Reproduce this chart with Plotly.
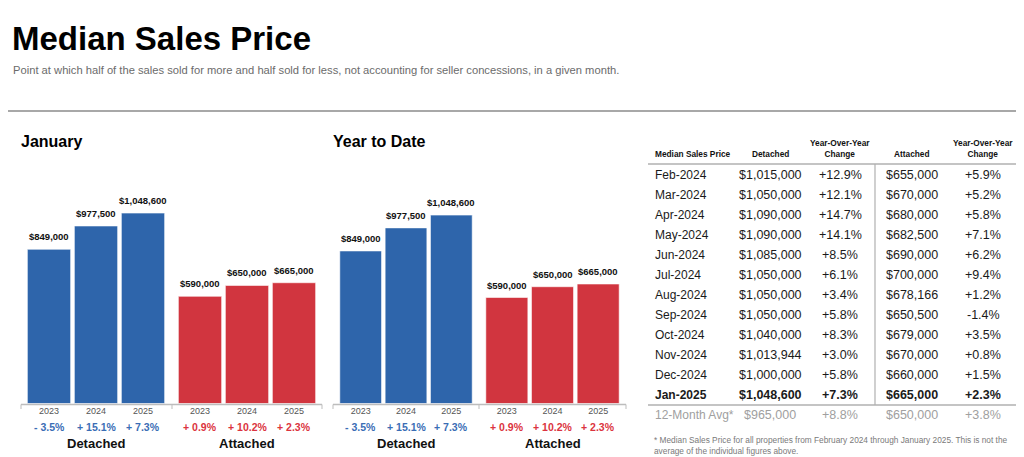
import plotly.graph_objects as go

# ---------------- data ----------------
years = ["2023", "2024", "2025"]
jan_detached = [849000, 977500, 1048600]
jan_attached = [590000, 650000, 665000]
jan_detached_pct = ["- 3.5%", "+ 15.1%", "+ 7.3%"]
jan_attached_pct = ["+ 0.9%", "+ 10.2%", "+ 2.3%"]
ytd_detached = [849000, 977500, 1048600]
ytd_attached = [590000, 650000, 665000]
ytd_detached_pct = ["- 3.5%", "+ 15.1%", "+ 7.3%"]
ytd_attached_pct = ["+ 0.9%", "+ 10.2%", "+ 2.3%"]

months = ["Feb-2024", "Mar-2024", "Apr-2024", "May-2024", "Jun-2024", "Jul-2024",
          "Aug-2024", "Sep-2024", "Oct-2024", "Nov-2024", "Dec-2024", "Jan-2025"]
tbl_detached = ["$1,015,000", "$1,050,000", "$1,090,000", "$1,090,000", "$1,085,000", "$1,050,000",
                "$1,050,000", "$1,050,000", "$1,040,000", "$1,013,944", "$1,000,000", "$1,048,600"]
tbl_detached_yoy = ["+12.9%", "+12.1%", "+14.7%", "+14.1%", "+8.5%", "+6.1%",
                    "+3.4%", "+5.8%", "+8.3%", "+3.0%", "+5.8%", "+7.3%"]
tbl_attached = ["$655,000", "$670,000", "$680,000", "$682,500", "$690,000", "$700,000",
                "$678,166", "$650,500", "$679,000", "$670,000", "$660,000", "$665,000"]
tbl_attached_yoy = ["+5.9%", "+5.2%", "+5.8%", "+7.1%", "+6.2%", "+9.4%",
                    "+1.2%", "-1.4%", "+3.5%", "+0.8%", "+1.5%", "+2.3%"]
avg_row = ["12-Month Avg*", "$965,000", "+8.8%", "$650,000", "+3.8%"]
table_header = ["Median Sales Price", "Detached", "Year-Over-Year<br>Change", "Attached", "Year-Over-Year<br>Change"]

# ---------------- style ----------------
PAGE_W, PAGE_H = 1024, 457
OX, OY = 8, 8                      # default page body margin
FW, FH = PAGE_W - OX, PAGE_H - OY  # figure size so it fits the window
BLUE = "#2e65ab"
RED = "#d1353f"
PCT_BLUE = "#3a6db5"
PCT_RED = "#db3340"
SANS = "Liberation Sans, Arial, Helvetica, sans-serif"


def px(x):
    return (x - OX) / FW


def py(y):
    return 1 - (y - OY) / FH


fig = go.Figure()

panels = [
    # (xaxis, yaxis, values, pct, color, pctcolor, domain px, group label)
    ("x", "y", jan_detached, jan_detached_pct, BLUE, PCT_BLUE, (25.5, 166.5), "Detached"),
    ("x2", "y", jan_attached, jan_attached_pct, RED, PCT_RED, (176.5, 317.5), "Attached"),
    ("x3", "y2", ytd_detached, ytd_detached_pct, BLUE, PCT_BLUE, (338, 474), "Detached"),
    ("x4", "y2", ytd_attached, ytd_attached_pct, RED, PCT_RED, (484, 621), "Attached"),
]

annotations = []
shapes = []
axes = {}

for i, (xa, ya, vals, pcts, col, pcol, dom, glabel) in enumerate(panels):
    fig.add_trace(go.Bar(
        x=years, y=vals, xaxis=xa, yaxis=ya,
        marker=dict(color=col, line=dict(color="rgba(255,255,255,0.55)", width=1)),
        showlegend=False, hoverinfo="skip",
    ))
    key = "xaxis" if xa == "x" else "xaxis" + xa[1:]
    axes[key] = dict(
        domain=[px(dom[0]), px(dom[1])], anchor=ya, type="category",
        categoryorder="array", categoryarray=years, range=[-0.5, len(years) - 0.5],
        showgrid=False, zeroline=False, showline=False, ticks="",
        tickfont=dict(family=SANS, size=9, color="#555"),
    )
    for k, (v, p) in enumerate(zip(vals, pcts)):
        # value label above bar
        annotations.append(dict(x=k, xref=xa, y=v, yref=ya, yanchor="bottom", yshift=5,
                                text="${:,.0f}".format(v), showarrow=False,
                                font=dict(family=SANS, size=9.5, color="#111", weight="bold")))
        annotations.append(dict(x=k, xref=xa, y=py(427), yref="paper", yanchor="middle", text=p,
                                showarrow=False,
                                font=dict(family=SANS, size=10.5, color=pcol, weight="bold")))
    annotations.append(dict(x=0.5, xref=xa + " domain", y=py(443), yref="paper", yanchor="middle",
                            text=glabel, showarrow=False,
                            font=dict(family=SANS, size=13, color="#111", weight="bold")))

fig.update_layout(**axes)
fig.update_layout(
    yaxis=dict(domain=[py(403.5), py(150)], range=[0, 1396000], visible=False, anchor="x"),
    yaxis2=dict(domain=[py(403.5), py(150)], range=[0, 1411000], visible=False, anchor="x3"),
    bargap=0.08,
)

# axis baselines with separator ticks
for (x0, xm, x1) in [(21, 172, 322), (333, 479, 626)]:
    shapes.append(dict(type="line", xref="paper", yref="paper", x0=px(x0), x1=px(x1),
                       y0=py(404.5), y1=py(404.5), line=dict(color="#bdbdbd", width=1.5)))
    for xt in (x0, xm, x1):
        shapes.append(dict(type="line", xref="paper", yref="paper", x0=px(xt), x1=px(xt),
                           y0=py(404.5), y1=py(409), line=dict(color="#bdbdbd", width=1)))

# top separator line
shapes.append(dict(type="line", xref="paper", yref="paper", x0=px(7), x1=px(1017),
                   y0=py(111), y1=py(111), line=dict(color="#a8a8a8", width=2)))

# titles
annotations += [
    dict(x=px(10), y=py(38), xref="paper", yref="paper", xanchor="left", yanchor="middle",
         text="Median Sales Price", showarrow=False,
         font=dict(family=SANS, size=33, color="#000", weight="bold")),
    dict(x=px(11), y=py(70), xref="paper", yref="paper", xanchor="left", yanchor="middle",
         text="Point at which half of the sales sold for more and half sold for less, not accounting for seller concessions, in a given month.",
         showarrow=False, font=dict(family=SANS, size=11.2, color="#6b6b6b")),
    dict(x=px(19), y=py(141), xref="paper", yref="paper", xanchor="left", yanchor="middle",
         text="January", showarrow=False, font=dict(family=SANS, size=16, color="#000", weight="bold")),
    dict(x=px(331), y=py(141), xref="paper", yref="paper", xanchor="left", yanchor="middle",
         text="Year to Date", showarrow=False, font=dict(family=SANS, size=16, color="#000", weight="bold")),
]

# ---------------- table ----------------
col_x = [653, 770, 840, 912, 983]
col_anchor = ["left", "center", "center", "center", "center"]
for j, h in enumerate(table_header):
    annotations.append(dict(x=px(col_x[j]), y=py(161), xref="paper", yref="paper",
                            xanchor=col_anchor[j], yanchor="bottom", text=h, showarrow=False, align="center",
                            font=dict(family=SANS, size=8.3, color="#111", weight="bold")))

row_y0, row_dy = 175, 20
for i in range(len(months)):
    yv = py(row_y0 + i * row_dy)
    bold = i == len(months) - 1
    cells = [months[i], tbl_detached[i], tbl_detached_yoy[i], tbl_attached[i], tbl_attached_yoy[i]]
    for j, c in enumerate(cells):
        annotations.append(dict(x=px(col_x[j]), y=yv, xref="paper", yref="paper",
                                xanchor=col_anchor[j], yanchor="middle", text=c, showarrow=False,
                                font=dict(family=SANS, size=12 if j == 0 else 12.5,
                                          color="#1a1a1a", weight="bold" if bold else "normal")))
avg_y = row_y0 + len(months) * row_dy
for j, c in enumerate(avg_row):
    annotations.append(dict(x=px(col_x[j]), y=py(avg_y), xref="paper", yref="paper",
                            xanchor=col_anchor[j], yanchor="middle", text=c, showarrow=False,
                            font=dict(family=SANS, size=12 if j == 0 else 12.5, color="#a0a0a0")))

annotations.append(dict(x=px(652), y=py(445), xref="paper", yref="paper", xanchor="left", yanchor="middle",
                        align="left", showarrow=False,
                        text="* Median Sales Price for all properties from February 2024 through January 2025. This is not the<br>average of the individual figures above.",
                        font=dict(family=SANS, size=8.3, color="#7a7a7a")))

shapes += [
    dict(type="line", xref="paper", yref="paper", x0=px(648), x1=px(1018), y0=py(164), y1=py(164),
         line=dict(color="#b0b0b0", width=1.5)),
    dict(type="line", xref="paper", yref="paper", x0=px(648), x1=px(1018),
         y0=py(avg_y - 10), y1=py(avg_y - 10), line=dict(color="#b0b0b0", width=1.5)),
    dict(type="line", xref="paper", yref="paper", x0=px(875), x1=px(875), y0=py(164), y1=py(avg_y - 10),
         line=dict(color="#b0b0b0", width=1.2)),
]

fig.update_layout(
    width=FW, height=FH, margin=dict(l=0, r=0, t=0, b=0),
    paper_bgcolor="white", plot_bgcolor="white",
    annotations=annotations, shapes=shapes,
    font=dict(family=SANS),
)

fig.write_html("out.html", config={"displayModeBar": False})
